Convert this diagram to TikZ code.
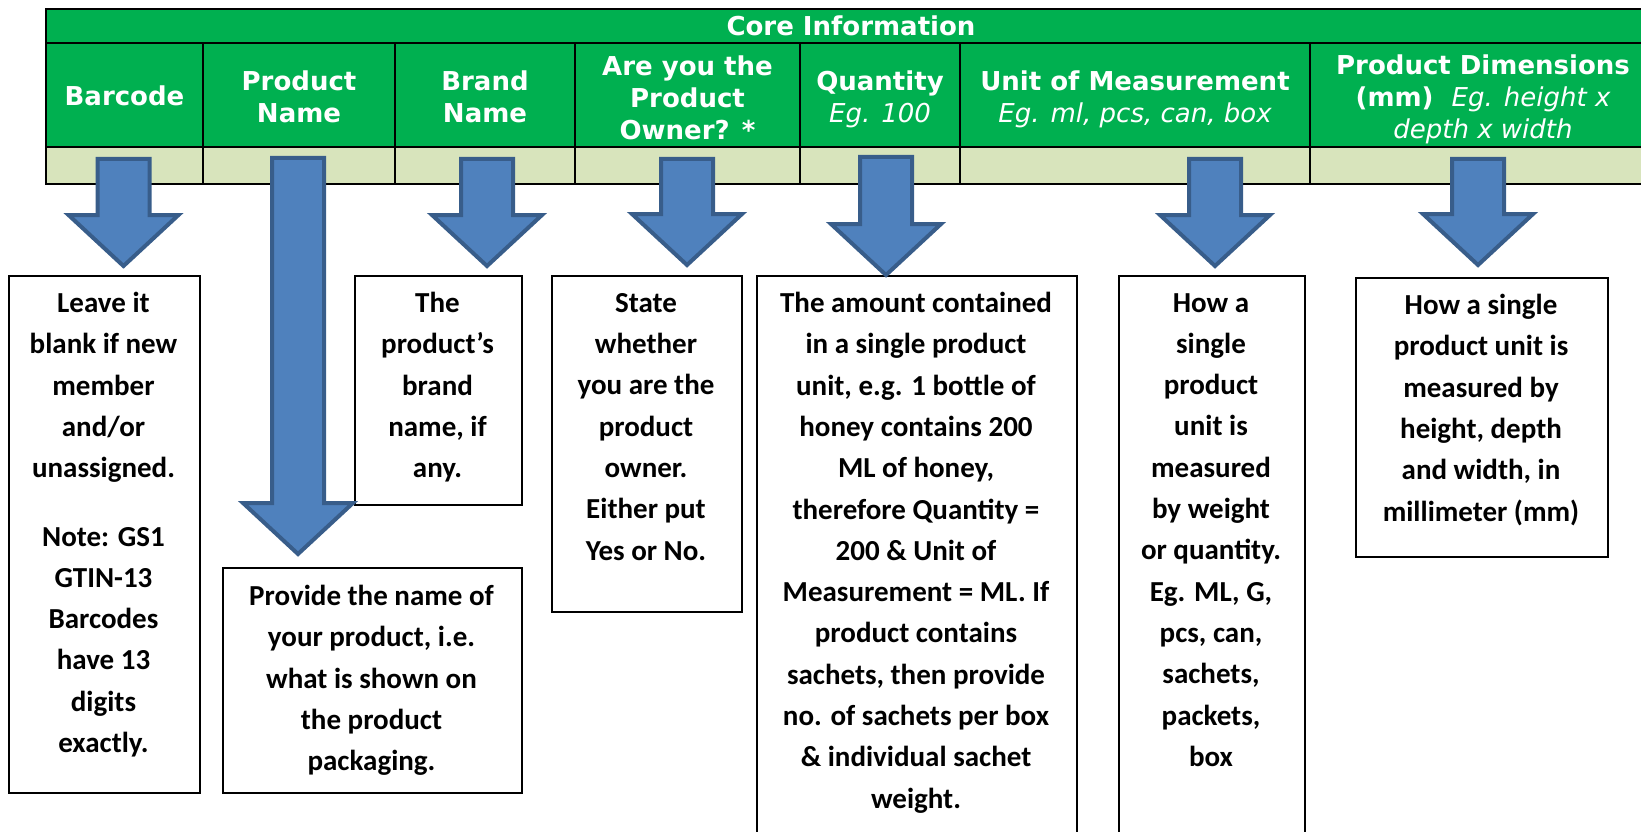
\documentclass[tikz,border=0pt]{standalone}
\usepackage{fontspec}
\newfontfamily\headfont{DejaVu Sans}
\newfontfamily\notefont{Carlito}
\definecolor{hdgreen}{RGB}{0,176,80}
\definecolor{rowgreen}{RGB}{216,228,188}
\definecolor{arrfill}{RGB}{79,129,189}
\definecolor{arrline}{RGB}{56,93,138}
% block arrow: centre x, top y, tip y
\newcommand{\bigarrow}[3]{\draw[blockarrow] (#1-26,#2+2) -- (#1+26,#2+2) -- (#1+26,#3-54) -- (#1+55,#3-54) -- (#1,#3-3) -- (#1-55,#3-54) -- (#1-26,#3-54) -- cycle;}
\tikzset{
  headtxt/.style={font=\headfont\bfseries\fontsize{26}{32}\selectfont,text=white,align=center,inner sep=0},
  notebox/.style={draw,line width=2pt,anchor=north west,inner sep=0},
  notetxt/.style={font=\notefont\bfseries\fontsize{29}{41.3}\selectfont,align=center,anchor=north,inner sep=0},
  blockarrow/.style={line width=4pt,fill=arrfill,draw=arrline,line join=miter}
}
\begin{document}
\begin{tikzpicture}[x=1pt,y=1pt,yscale=-1,xscale=1]
\useasboundingbox (0,0) rectangle (1641,832);
\clip (0,0) rectangle (1641,832);
% table
\fill[hdgreen] (46,9) rectangle (1660,147);
\fill[rowgreen] (46,147) rectangle (1660,184);
\draw[line width=2.5pt] (46,9) rectangle (1660,184);
\draw[line width=2.5pt] (46,43) -- (1660,43);
\draw[line width=2.5pt] (46,147) -- (1660,147);
\foreach \xc in {203,395,575,800,960,1310}
  \draw[line width=2.5pt] (\xc,43) -- (\xc,184);
\node[headtxt] (hcore) at (851,26) {Core Information};
\node[headtxt] (hbar) at (124.5,96) {Barcode};
\node[headtxt] (hpname) at (299,96.5) {Product\\Name};
\node[headtxt] (hbrand) at (485,96.5) {Brand\\Name};
\node[headtxt] (howner) at (687.5,97.5) {Are you the\\Product\\Owner? *};
\node[headtxt] (hqty) at (880,99) {Quantity\\{\mdseries\itshape Eg. 100}};
\node[headtxt] (hunit) at (1135,99) {Unit of Measurement\\{\mdseries\itshape Eg. ml, pcs, can, box}};
\node[headtxt] (hdim) at (1483,99.5) {Product Dimensions\\(mm)\ \ {\mdseries\itshape Eg. height x}\\{\mdseries\itshape depth x width}};
% note boxes
\node[notebox,minimum width=191,minimum height=517] (bar) at (8,275) {};
\node[notebox,minimum width=299,minimum height=225] (pname) at (222,567) {};
\node[notebox,minimum width=167,minimum height=229] (brand) at (354,275) {};
\node[notebox,minimum width=190,minimum height=336] (owner) at (551,275) {};
\node[notebox,minimum width=320,minimum height=640] (qty) at (756,275) {};
\node[notebox,minimum width=186,minimum height=640] (unit) at (1118,275) {};
\node[notebox,minimum width=252,minimum height=279] (dim) at (1355,277) {};
\node[notetxt] (bartxt) at (103.5,292) {Leave it\\blank if new\\member\\and/or\\unassigned.\\[27pt]Note: GS1\\GTIN-13\\Barcodes\\have 13\\digits\\exactly.};
\node[notetxt] (pnametxt) at (371.5,585) {Provide the name of\\your product, i.e.\\what is shown on\\the product\\packaging.};
\node[notetxt] (brandtxt) at (437.5,292) {The\\product’s\\brand\\name, if\\any.};
\node[notetxt] (ownertxt) at (646,293) {State\\whether\\you are the\\product\\owner.\\Either put\\Yes or No.};
\node[notetxt] (qtytxt) at (916,292) {The amount contained\\in a single product\\unit, e.g. 1 bottle of\\honey contains 200\\ML of honey,\\therefore Quantity =\\200 \& Unit of\\Measurement = ML. If\\product contains\\sachets, then provide\\no. of sachets per box\\\& individual sachet\\weight.};
\node[notetxt] (unittxt) at (1211,293) {How a\\single\\product\\unit is\\measured\\by weight\\or quantity.\\Eg. ML, G,\\pcs, can,\\sachets,\\packets,\\box};
\node[notetxt] (dimtxt) at (1481,294) {How a single\\product unit is\\measured by\\height, depth\\and width, in\\millimeter (mm)};
% arrows
\bigarrow{123.5}{157}{269}
\bigarrow{298}{156}{557}
\bigarrow{487}{157}{269}
\bigarrow{687}{157}{268}
\bigarrow{886}{155}{278}
\bigarrow{1215}{157}{269}
\bigarrow{1478}{157}{268}
\end{tikzpicture}
\end{document}
